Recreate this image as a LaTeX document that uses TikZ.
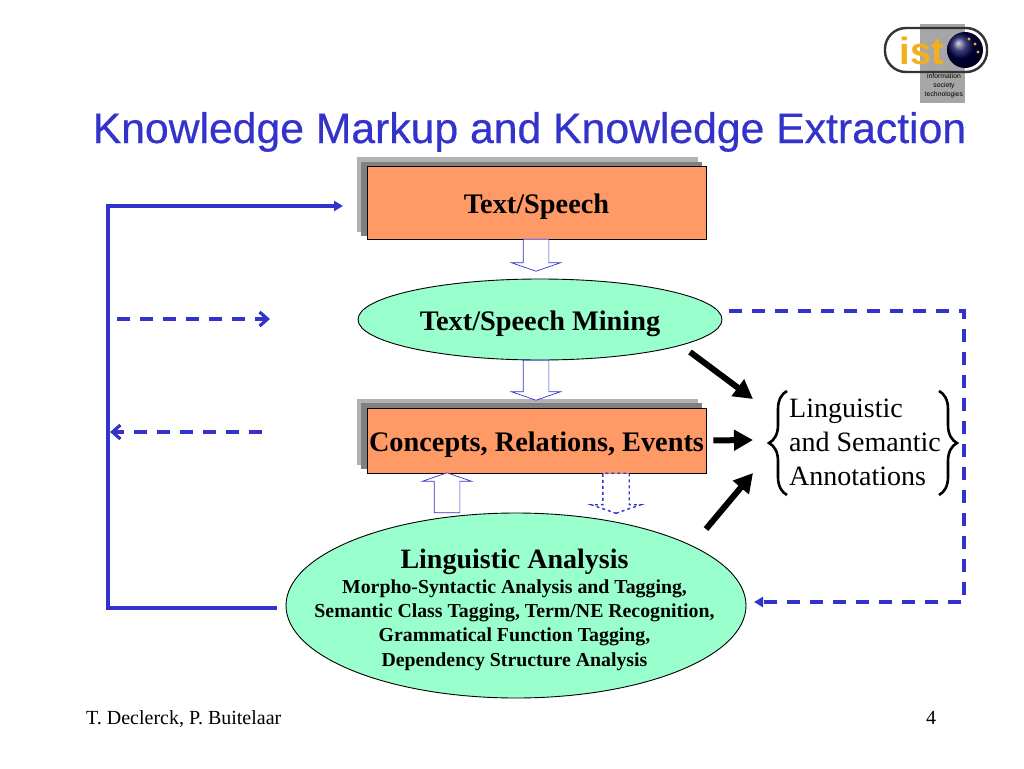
\documentclass[tikz,border=0pt]{standalone}
\usepackage{fontspec}
\setmainfont{Liberation Serif}
\newfontfamily\titlefont{Liberation Sans}
\newfontfamily\headingfont[FakeBold=0.5]{Liberation Sans}
\usetikzlibrary{arrows.meta}
\usetikzlibrary{shapes.geometric}
\usetikzlibrary{shapes.arrows}
\usetikzlibrary{decorations.pathreplacing}

\definecolor{slideblue}{HTML}{3333CC}
\definecolor{boxorange}{HTML}{FF9966}
\definecolor{ovalgreen}{HTML}{99FFCC}
\definecolor{logogold}{HTML}{F2B01E}

\tikzset{
  orangebox/.style={draw=black,fill=boxorange,line width=0.9pt,minimum width=339pt,inner sep=0pt,text height=26pt,text depth=5pt,font=\fontsize{28.3}{30}\selectfont\bfseries},
  greenoval/.style={ellipse,draw=black,fill=ovalgreen,line width=0.9pt,inner sep=0pt},
  hollowarrow/.style={single arrow,draw=slideblue,fill=white,line width=0.7pt,inner sep=0pt,text height=25pt,text depth=0pt,minimum width=48pt,minimum height=40pt,single arrow head extend=11.5pt,single arrow tip angle=142},
  bluesolid/.style={draw=slideblue,line width=3.4pt},
  bluedash/.style={draw=slideblue,line width=3.2pt,dash pattern=on 13pt off 10pt},
  heavy/.style={line width=6pt,-{Triangle[length=19pt,width=20pt]}},
  curlybrace/.style={line width=2.6pt,decorate,decoration={brace,amplitude=18pt}}
}

\begin{document}
\begin{tikzpicture}[x=1pt,y=-1pt]

\useasboundingbox (0,0) rectangle (1024,768);

% logo
\fill[black!35] (920,24) rectangle (965,103);
\draw[black!80,line width=2.4pt,rounded corners=21pt] (885,28) rectangle (987,72);
\node[font=\titlefont\fontsize{38}{38}\selectfont\bfseries,text=logogold] (istword) at (922,51) {ist};
\shade[ball color=blue!30!black] (965,50) circle (18);
\fill[logogold] (969,39) circle (1.6) (975,44) circle (1.6) (978,52) circle (1.6);
\node[font=\titlefont\fontsize{6.8}{8.8}\selectfont,align=center,inner sep=0pt] (istnote) at (944,86) {information\\society\\technologies};

\node[font=\headingfont\fontsize{42.7}{42.7}\selectfont,text=slideblue,anchor=base] (heading) at (529.5,143) {Knowledge Markup and Knowledge Extraction};

% boxes
\fill[black!30] (357,157) rectangle (698,232);
\fill[black!50] (361,162) rectangle (702,236);
\node[orangebox,minimum height=73pt] (speech) at (536.5,202.5) {Text/Speech};

\node[greenoval,minimum width=364pt,minimum height=81pt,text height=26pt,text depth=5pt,font=\fontsize{28.3}{30}\selectfont\bfseries] (mining) at (540,319.5) {Text/Speech Mining};

\fill[black!30] (357,399) rectangle (698,465);
\fill[black!50] (361,403) rectangle (702,469);
\node[orangebox,minimum height=65pt] (concepts) at (536.5,440.5) {Concepts, Relations, Events};

\node[greenoval,minimum width=460pt,minimum height=185pt] (analysis) at (516,605.5) {};
\node[align=center,inner sep=0pt,font=\fontsize{19.8}{24.3}\selectfont\bfseries] (analysistext) at (514.5,610) {{\fontsize{28}{28}\selectfont Linguistic Analysis}\\
Morpho-Syntactic Analysis and Tagging,\\
Semantic Class Tagging, Term/NE Recognition,\\
Grammatical Function Tagging,\\
Dependency Structure Analysis};

% block arrows
\node[hollowarrow,rotate=-90,minimum height=32pt] (speechdown) at (536,253) {};
\node[hollowarrow,rotate=-90] (miningdown) at (536,378) {};
\node[hollowarrow,rotate=90] (analysisup) at (447,495) {};
\node[hollowarrow,rotate=-90,dashed,line width=1.4pt] (conceptsdown) at (616,491) {};

% annotations
\node[font=\fontsize{28}{34}\selectfont,align=left,anchor=west,inner sep=0pt] (annotations) at (789,442) {Linguistic\\and Semantic\\Annotations};
\draw[curlybrace] (787,495) -- (787,391);
\draw[curlybrace] (939,391) -- (939,495);

\coordinate (annotTop) at (753,399);
\coordinate (annotMid) at (753,440);
\coordinate (annotLow) at (753,473);
\coordinate (miningOut) at (690,352);
\coordinate (analysisOut) at (706,529);
\draw[heavy] (miningOut) -- (annotTop);
\draw[heavy,shorten <=7pt] (concepts.east) -- (annotMid);
\draw[heavy] (analysisOut) -- (annotLow);

% feedback lines
\coordinate (loopStart) at (277,608);
\coordinate (loopLow) at (108,608);
\coordinate (loopHigh) at (108,206);
\coordinate (loopEnd) at (343,206);
\draw[bluesolid,-{Triangle[length=9pt,width=10pt]}] (loopStart) -- (loopLow) -- (loopHigh) -- (loopEnd);

\coordinate (dashOutA) at (117,319);
\coordinate (dashOutB) at (270,319);
\draw[bluedash,-{Straight Barb[length=8pt,width=14pt]}] (dashOutA) -- (dashOutB);

\coordinate (dashBackA) at (262,432);
\coordinate (dashBackB) at (110,432);
\draw[bluedash,-{Straight Barb[length=8pt,width=14pt]}] (dashBackA) -- (dashBackB);

\coordinate (rightStart) at (729,311);
\coordinate (rightTop) at (964,311);
\coordinate (rightLow) at (964,602);
\coordinate (rightEnd) at (754,602);
\draw[bluedash,-{Triangle[length=9pt,width=10pt]}] (rightStart) -- (rightTop) -- (rightLow) -- (rightEnd);

% footer
\node[font=\fontsize{20}{20}\selectfont,anchor=base west,inner sep=0pt] (authors) at (86,724) {T. Declerck, P. Buitelaar};
\node[font=\fontsize{20}{20}\selectfont,anchor=base,inner sep=0pt] (pagenum) at (931,724) {4};

\end{tikzpicture}
\end{document}
